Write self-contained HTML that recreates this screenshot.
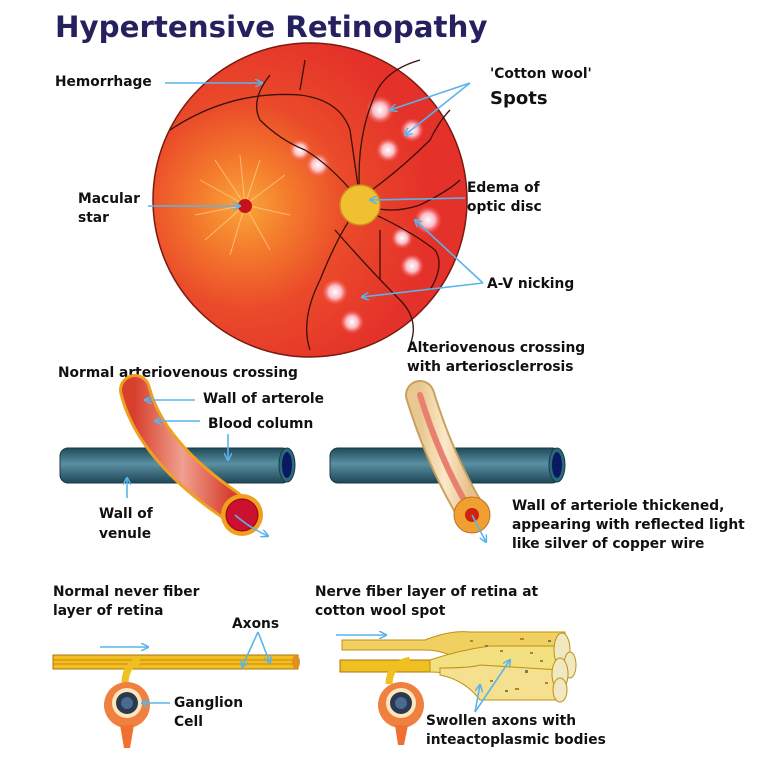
<!DOCTYPE html>
<html><head><meta charset="utf-8"><style>
html,body{margin:0;padding:0;background:#fff;}
svg{display:block;font-family:"DejaVu Sans","Liberation Sans",sans-serif;}
.l{font-size:13.8px;font-weight:bold;fill:#111;}
</style></head><body>
<svg width="784" height="768" viewBox="0 0 784 768" xmlns="http://www.w3.org/2000/svg">
<defs>
<radialGradient id="fund" cx="0.29" cy="0.52" r="0.6">
<stop offset="0" stop-color="#f9a53a"/><stop offset="0.25" stop-color="#f47a2c"/><stop offset="0.55" stop-color="#ea4a2a"/><stop offset="1" stop-color="#e4312a"/></radialGradient>
<radialGradient id="spot"><stop offset="0" stop-color="#fff"/><stop offset="0.5" stop-color="#fde" stop-opacity="0.8"/><stop offset="1" stop-color="#f66" stop-opacity="0"/></radialGradient>
<linearGradient id="ven" x1="0" y1="0" x2="0" y2="1"><stop offset="0" stop-color="#1e4a5a"/><stop offset="0.45" stop-color="#5a8fa2"/><stop offset="1" stop-color="#1e4656"/></linearGradient>
<linearGradient id="art" x1="0" y1="0" x2="1" y2="0"><stop offset="0" stop-color="#d8402e"/><stop offset="0.5" stop-color="#f0a090"/><stop offset="1" stop-color="#d8402e"/></linearGradient>
<linearGradient id="art2" x1="0" y1="0" x2="1" y2="0"><stop offset="0" stop-color="#e8c890"/><stop offset="0.5" stop-color="#fbe8c8"/><stop offset="1" stop-color="#e8c08a"/></linearGradient>
<marker id="ar" markerWidth="8" markerHeight="8" refX="7" refY="4" orient="auto" markerUnits="userSpaceOnUse"><path d="M0,0 L8,4 L0,8" fill="none" stroke="#5ab4ec" stroke-width="1.5"/></marker>
</defs>
<text x="55" y="37" font-size="29.3" font-weight="bold" fill="#25205e">Hypertensive Retinopathy</text>

<!-- fundus -->
<circle cx="310" cy="200" r="157" fill="url(#fund)" stroke="#7a1a12" stroke-width="1.5"/>
<g stroke="#ffe0a0" stroke-width="1" opacity="0.6">
<path d="M245 205 L200 180 M245 205 L195 215 M245 205 L215 160 M245 205 L260 160 M245 205 L285 175 M245 205 L290 215 M245 205 L270 250 M245 205 L230 255 M245 205 L205 240 M245 205 L240 155"/></g>
<g fill="url(#spot)">
<circle cx="380" cy="110" r="14"/><circle cx="412" cy="130" r="12"/><circle cx="388" cy="150" r="12"/><circle cx="300" cy="150" r="11"/><circle cx="318" cy="165" r="12"/><circle cx="428" cy="220" r="14"/><circle cx="402" cy="238" r="11"/><circle cx="412" cy="266" r="12"/><circle cx="335" cy="292" r="13"/><circle cx="352" cy="322" r="12"/></g>
<g fill="none" stroke="#3a1008" stroke-width="1.3">
<path d="M170 130 Q230 90 300 95 Q340 100 350 130 L360 200"/>
<path d="M360 200 Q355 140 375 95 Q385 70 420 60"/>
<path d="M355 195 Q330 165 305 150 Q280 140 260 120 Q250 100 270 75"/>
<path d="M360 205 Q340 230 320 280 Q300 320 310 350"/>
<path d="M365 210 Q410 230 435 250 Q445 265 430 290"/>
<path d="M365 205 Q390 215 420 205 Q450 190 460 180"/>
<path d="M365 195 Q400 170 430 140 Q440 120 450 110"/>
<path d="M335 230 Q370 270 400 300 Q420 320 410 345"/>
<path d="M300 90 L305 60"/><path d="M380 230 L380 280"/></g>
<circle cx="360" cy="205" r="20" fill="#f0c030" stroke="#d09020" stroke-width="1.5"/>
<circle cx="245" cy="206" r="7" fill="#c8101a"/>

<g stroke="#5ab4ec" stroke-width="1.6" fill="none" marker-end="url(#ar)">
<line x1="165" y1="83" x2="262" y2="83"/>
<line x1="148" y1="206" x2="240" y2="206"/>
<path d="M470 83 L390 110"/><path d="M470 83 L405 135"/>
<line x1="465" y1="198" x2="370" y2="200"/>
<path d="M483 283 L415 220"/><path d="M483 283 L362 297"/>
</g>
<text class="l" x="55" y="86">Hemorrhage</text>
<text class="l" x="78" y="203">Macular</text><text class="l" x="78" y="222">star</text>
<text class="l" x="490" y="78">'Cotton wool'</text>
<text x="490" y="104" font-size="18" font-weight="bold" fill="#111">Spots</text>
<text class="l" x="467" y="192">Edema of</text><text class="l" x="467" y="211">optic disc</text>
<text class="l" x="487" y="288">A-V nicking</text>

<!-- normal crossing -->
<text class="l" x="58" y="377">Normal arteriovenous crossing</text>
<rect x="60" y="448" width="230" height="35" rx="8" fill="url(#ven)" stroke="#1a3a48"/>
<ellipse cx="287" cy="465" rx="8" ry="17" fill="#2a6a7a" stroke="#1a3a48"/><ellipse cx="287" cy="465" rx="5" ry="13" fill="#0a1a60"/>
<path d="M135 390 Q150 450 230 505" stroke="#f0a020" stroke-width="32" stroke-linecap="round" fill="none"/>
<path d="M135 390 Q150 450 230 505" stroke="url(#art)" stroke-width="26" stroke-linecap="round" fill="none"/>
<circle cx="242" cy="515" r="21" fill="#f0a020"/><circle cx="242" cy="515" r="16" fill="#cc1030" stroke="#900" stroke-width="1"/>
<g stroke="#5ab4ec" stroke-width="1.6" fill="none" marker-end="url(#ar)">
<line x1="195" y1="400" x2="145" y2="400"/><line x1="200" y1="421" x2="155" y2="421"/>
<line x1="228" y1="434" x2="228" y2="460"/><line x1="127" y1="498" x2="127" y2="478"/>
<path d="M235 515 Q250 528 268 536"/></g>
<text class="l" x="203" y="403">Wall of arterole</text>
<text class="l" x="208" y="428">Blood column</text>
<text class="l" x="99" y="518">Wall of</text><text class="l" x="99" y="538">venule</text>

<!-- sclerosis crossing -->
<text class="l" x="407" y="352">Alteriovenous crossing</text>
<text class="l" x="407" y="371">with arteriosclerrosis</text>
<rect x="330" y="448" width="230" height="35" rx="8" fill="url(#ven)" stroke="#1a3a48"/>
<ellipse cx="557" cy="465" rx="8" ry="17" fill="#2a6a7a" stroke="#1a3a48"/><ellipse cx="557" cy="465" rx="5" ry="13" fill="#0a1a60"/>
<path d="M420 395 Q440 460 470 510" stroke="#c8a060" stroke-width="30" stroke-linecap="round" fill="none"/>
<path d="M420 395 Q440 460 470 510" stroke="url(#art2)" stroke-width="26" stroke-linecap="round" fill="none"/>
<path d="M420 395 Q440 460 470 510" stroke="#e88070" stroke-width="6" stroke-linecap="round" fill="none"/>
<circle cx="472" cy="515" r="18" fill="#f0a030" stroke="#c07020"/><circle cx="472" cy="515" r="7" fill="#d02010"/>
<line x1="472" y1="515" x2="486" y2="542" stroke="#5ab4ec" stroke-width="1.6" marker-end="url(#ar)"/>
<text class="l" x="512" y="510">Wall of arteriole thickened,</text>
<text class="l" x="512" y="529">appearing with reflected light</text>
<text class="l" x="512" y="548">like silver of copper wire</text>

<!-- normal nerve -->
<text class="l" x="53" y="596">Normal never fiber</text><text class="l" x="53" y="615">layer of retina</text>
<rect x="53" y="655" width="245" height="14" fill="#f0c020" stroke="#b07010"/>
<line x1="53" y1="660" x2="298" y2="660" stroke="#d08010" stroke-width="1"/>
<line x1="53" y1="664" x2="298" y2="664" stroke="#d08010" stroke-width="1"/>
<ellipse cx="296" cy="662" rx="4" ry="7" fill="#e09020"/>
<path d="M125 684 Q125 665 140 660" stroke="#f0c020" stroke-width="7" fill="none"/>
<circle cx="127" cy="705" r="23" fill="#f08040"/><path d="M120 725 L124 748 L130 748 L134 725Z" fill="#f07030"/>
<circle cx="127" cy="703" r="15" fill="#fbe6c0"/><circle cx="127" cy="703" r="11" fill="#2a3850"/><circle cx="127" cy="703" r="6" fill="#4a6a90"/>
<g stroke="#5ab4ec" stroke-width="1.6" fill="none" marker-end="url(#ar)">
<line x1="100" y1="647" x2="148" y2="647"/><path d="M258 632 L242 667"/><path d="M258 632 L270 663"/><line x1="170" y1="703" x2="142" y2="703"/></g>
<text class="l" x="232" y="628">Axons</text>
<text class="l" x="174" y="707">Ganglion</text><text class="l" x="174" y="726">Cell</text>

<!-- swollen -->
<text class="l" x="315" y="596">Nerve fiber layer of retina at</text><text class="l" x="315" y="615">cotton wool spot</text>
<path d="M342 640 L425 640 Q450 630 470 632 L565 632 L565 668 L470 668 Q450 650 425 650 L342 650Z" fill="#f0d060" stroke="#c09010"/>
<rect x="340" y="660" width="110" height="12" fill="#f0c020" stroke="#b07010"/>
<path d="M430 660 Q460 650 490 646 L562 646 L562 690 L480 690 Q460 672 430 672Z" fill="#f3e080" stroke="#c09010"/>
<path d="M440 668 Q470 668 480 665 L560 670 L560 700 L480 700 Q465 680 440 675Z" fill="#f5e090" stroke="#c09010"/>
<g fill="#f0e8c0" stroke="#c09010"><ellipse cx="562" cy="650" rx="8" ry="17"/><ellipse cx="570" cy="665" rx="6" ry="13"/><ellipse cx="560" cy="674" rx="8" ry="16"/><ellipse cx="560" cy="690" rx="7" ry="12"/></g>
<g fill="#c08020"><rect x="470" y="640" width="3" height="2"/><rect x="500" y="650" width="3" height="2"/><rect x="520" y="638" width="4" height="2"/><rect x="540" y="660" width="3" height="2"/><rect x="490" y="680" width="3" height="2"/><rect x="515" y="688" width="4" height="2"/><rect x="545" y="682" width="3" height="2"/><rect x="530" y="652" width="3" height="2"/></g>
<g fill="#708060"><rect x="485" y="645" width="3" height="2"/><rect x="525" y="670" width="3" height="3"/><rect x="505" y="690" width="3" height="2"/><rect x="548" y="640" width="3" height="2"/></g>
<path d="M389 684 Q389 665 410 660" stroke="#f0c020" stroke-width="7" fill="none"/>
<circle cx="401" cy="705" r="23" fill="#f08040"/><path d="M395 725 L398 745 L404 745 L408 725Z" fill="#f07030"/>
<circle cx="401" cy="703" r="15" fill="#fbe6c0"/><circle cx="401" cy="703" r="11" fill="#2a3850"/><circle cx="401" cy="703" r="6" fill="#4a6a90"/>
<g stroke="#5ab4ec" stroke-width="1.6" fill="none" marker-end="url(#ar)">
<line x1="336" y1="635" x2="386" y2="635"/><path d="M475 712 L480 685"/><path d="M475 712 L510 660"/></g>
<text class="l" x="426" y="725">Swollen axons with</text><text class="l" x="426" y="744">inteactoplasmic bodies</text>
</svg>
</body></html>
